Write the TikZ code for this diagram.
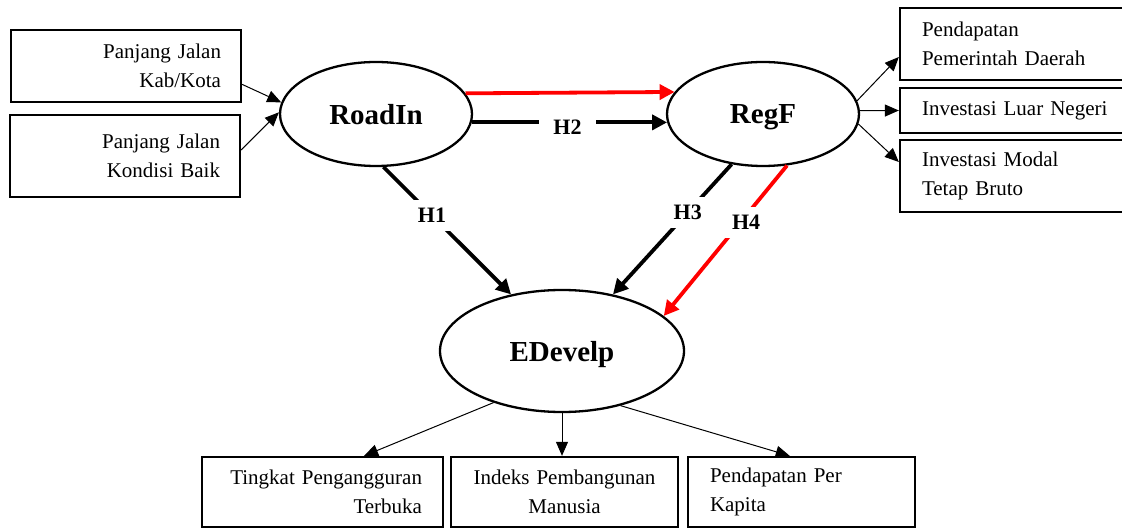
\documentclass[tikz,border=0pt]{standalone}
\usepackage{fontspec}
\setmainfont{Liberation Serif}
\usetikzlibrary{shapes.geometric,arrows.meta}
\tikzset{
  box/.style={draw, line width=2.3pt, inner sep=0pt, font=\fontsize{21}{29}\selectfont},
  lv/.style={ellipse, draw, line width=2.3pt, inner sep=0pt, text depth=0pt, font=\bfseries\fontsize{29}{30}\selectfont},
  thinarr/.style={-{Triangle[length=14pt,width=12pt]}, line width=1pt},
  thickarr/.style={-{Triangle[length=15pt,width=15pt]}, line width=3.8pt},
  hl/.style={fill=white, font=\bfseries\fontsize{22}{22}\selectfont, inner xsep=8pt, inner ysep=8pt}
}
\begin{document}
\begin{tikzpicture}[x=1pt,y=-1pt]
\useasboundingbox (0,0) rectangle (1122,529);
% left boxes
\node[box, minimum width=230, minimum height=72, text width=190, align=right] (b1) at (126,66) {Panjang Jalan\\Kab/Kota};
\node[box, minimum width=230, minimum height=82, text width=190, align=right] (b2) at (125,156) {Panjang Jalan\\Kondisi Baik};
% right boxes
\node[box, minimum width=240, minimum height=72, text width=196, align=left] (r1) at (1020,44) {Pendapatan\\Pemerintah Daerah};
\node[box, minimum width=240, minimum height=45, text width=196, align=left] (r2) at (1020,110.5) {Investasi Luar Negeri};
\node[box, minimum width=240, minimum height=72, text width=196, align=left] (r3) at (1020,176) {Investasi Modal\\Tetap Bruto};
% bottom boxes
\node[box, minimum width=241, minimum height=70, text width=199, align=right] (t1) at (322.5,492) {Tingkat Pengangguran\\Terbuka};
\node[box, minimum width=227, minimum height=70, text width=210, align=center] (t2) at (564.5,492) {Indeks Pembangunan\\Manusia};
\node[box, minimum width=227, minimum height=70, text width=183, align=left] (t3) at (801.5,492) {Pendapatan Per\\Kapita};
% latent variables
\node[lv, minimum width=192, minimum height=104] (ri) at (376,114) {RoadIn};
\node[lv, minimum width=192, minimum height=104] (rf) at (763,114) {RegF};
\node[lv, minimum width=244, minimum height=122] (ed) at (562,351) {EDevelp};
% indicator arrows
\draw[thinarr] (b1.-9) -- (ri.173);
\draw[thinarr] (b2.3) -- (ri.179);
\draw[thinarr] (rf.8) -- (r1.west |- 0,57);
\draw[thinarr] (rf.2) -- (r2.west);
\draw[thinarr] (rf.-6) -- (r3.west |- 0,162);
\draw[thinarr] (ed.-143) -- (t1.41);
\draw[thinarr] (ed.south) -- (ed.south |- t2.north);
\draw[thinarr] (ed.-43) -- (t3.108);
% structural arrows
\draw[thickarr, red] (ri.13) -- (rf.166);
\draw[thickarr] (ri.-5) -- node[hl, pos=0.49, yshift=-5pt, inner xsep=14pt, inner ysep=3pt] (h2) {H2} (rf.185);
\draw[thickarr] (ri.-82) -- node[hl, pos=0.38] (h1) {H1} (ed.132);
\draw[thickarr] (rf.-122) -- node[hl, pos=0.37] (h3) {H3} (ed.48);
\draw[thickarr, red] (rf.-65) -- node[hl, pos=0.38, xshift=6pt, text=black] (h4) {H4} (ed.19);
\end{tikzpicture}
\end{document}
